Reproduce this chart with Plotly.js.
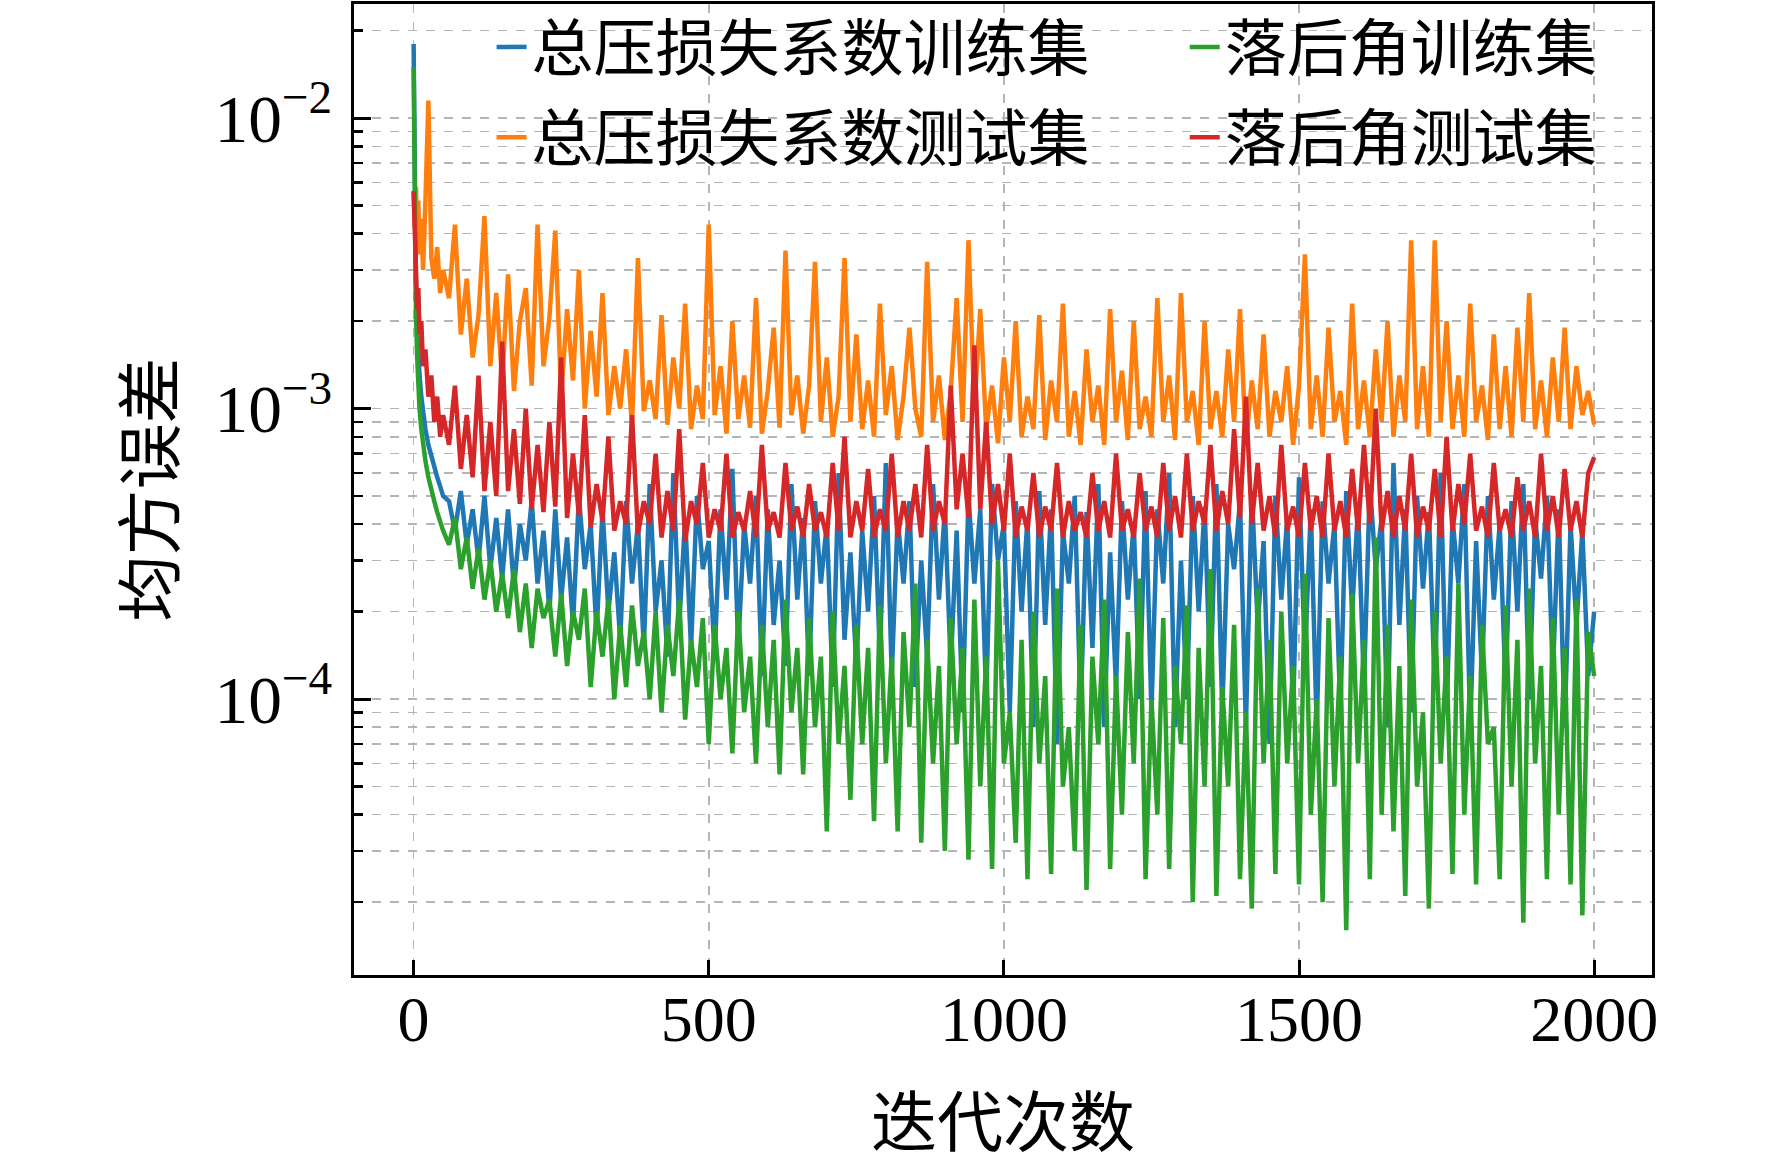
<!DOCTYPE html>
<html>
<head>
<meta charset="utf-8">
<script src="https://cdn.plot.ly/plotly-3.0.1.min.js"></script>
<style>
  html, body { margin: 0; padding: 0; background: #fff; }
  #chart { width: 1772px; height: 1165px; }
</style>
</head>
<body>
<div id="chart"></div>
<script>
// sampled iteration numbers (x axis)
const iters = [
  0, 2, 4, 6, 8, 10, 13, 16, 20, 25, 30, 35, 40, 45, 50,
  60, 70, 80, 90, 100, 110, 120, 130, 140, 150,
  160, 170, 180, 190, 200, 210, 220, 230, 240, 250,
  260, 270, 280, 290, 300, 310, 320, 330, 340, 350,
  360, 370, 380, 390, 400, 410, 420, 430, 440, 450,
  460, 470, 480, 490, 500, 510, 520, 530, 540, 550,
  560, 570, 580, 590, 600, 610, 620, 630, 640, 650,
  660, 670, 680, 690, 700, 710, 720, 730, 740, 750,
  760, 770, 780, 790, 800, 810, 820, 830, 840, 850,
  860, 870, 880, 890, 900, 910, 920, 930, 940, 950,
  960, 970, 980, 990, 1000, 1010, 1020, 1030, 1040, 1050,
  1060, 1070, 1080, 1090, 1100, 1110, 1120, 1130, 1140, 1150,
  1160, 1170, 1180, 1190, 1200, 1210, 1220, 1230, 1240, 1250,
  1260, 1270, 1280, 1290, 1300, 1310, 1320, 1330, 1340, 1350,
  1360, 1370, 1380, 1390, 1400, 1410, 1420, 1430, 1440, 1450,
  1460, 1470, 1480, 1490, 1500, 1510, 1520, 1530, 1540, 1550,
  1560, 1570, 1580, 1590, 1600, 1610, 1620, 1630, 1640, 1650,
  1660, 1670, 1680, 1690, 1700, 1710, 1720, 1730, 1740, 1750,
  1760, 1770, 1780, 1790, 1800, 1810, 1820, 1830, 1840, 1850,
  1860, 1870, 1880, 1890, 1900, 1910, 1920, 1930, 1940, 1950,
  1960, 1970, 1980, 1990, 2000
]

// MSE values, in units of 1e-5
const lossTrain = [
  1800, 420, 260, 190, 150, 130, 110, 95, 85, 75, 68, 62, 58, 54, 50,
  48, 38, 52, 34, 45, 30, 50, 28, 42, 26,
  45, 24, 40, 30, 48, 25, 38, 20, 45, 22,
  36, 18, 50, 28, 40, 17, 45, 20, 32, 16,
  48, 25, 40, 15, 55, 20, 30, 14, 60, 18,
  42, 15, 50, 28, 35, 14, 45, 22, 62, 15,
  40, 25, 50, 12, 45, 18, 30, 13, 55, 22,
  42, 12, 48, 25, 40, 11, 60, 16, 32, 13,
  38, 20, 50, 14, 65, 12, 42, 25, 48, 11,
  30, 14, 55, 22, 45, 13, 38, 9, 50, 25,
  45, 10, 55, 30, 40, 9, 48, 20, 42, 8,
  52, 18, 45, 7, 38, 25, 50, 9, 44, 15,
  55, 8, 32, 11, 48, 22, 40, 10, 52, 9,
  45, 25, 60, 8, 30, 10, 50, 20, 46, 11,
  55, 9, 40, 28, 48, 8, 52, 18, 35, 7,
  50, 22, 42, 9, 58, 14, 45, 8, 48, 25,
  40, 9, 52, 20, 46, 11, 55, 28, 42, 8,
  65, 18, 45, 9, 50, 24, 44, 11, 60, 9,
  42, 25, 55, 8, 35, 12, 50, 22, 40, 11,
  48, 20, 55, 10, 42, 26, 50, 12, 45, 8,
  40, 18, 38, 12, 20
]

const lossTest = [
  560, 420, 580, 380, 520, 340, 450, 300, 520, 1150, 330, 280, 360, 250, 300,
  240, 430, 180, 280, 150, 210, 460, 140, 250, 125,
  290, 115, 200, 260, 120, 430, 140, 205, 410, 110,
  220, 125, 300, 100, 185, 110, 250, 95, 140, 100,
  160, 88, 330, 98, 125, 92, 210, 88, 150, 100,
  230, 85, 120, 92, 430, 95, 140, 82, 200, 92,
  130, 86, 240, 82, 115, 190, 86, 350, 95, 130,
  82, 120, 320, 90, 150, 80, 110, 330, 90, 180,
  85, 125, 80, 230, 95, 140, 78, 110, 190, 100,
  80, 320, 90, 130, 78, 115, 240, 90, 380, 100,
  220, 85, 120, 76, 150, 90, 200, 80, 110, 85,
  210, 78, 125, 90, 230, 80, 115, 75, 160, 90,
  120, 75, 220, 90, 135, 78, 200, 85, 110, 80,
  240, 90, 130, 78, 250, 90, 115, 75, 200, 85,
  115, 80, 160, 90, 220, 75, 125, 85, 180, 80,
  115, 90, 140, 75, 120, 340, 85, 130, 80, 190,
  90, 115, 75, 230, 85, 125, 80, 160, 90, 200,
  80, 130, 90, 380, 85, 140, 80, 380, 90, 200,
  85, 130, 80, 230, 90, 120, 78, 180, 85, 140,
  80, 190, 90, 250, 85, 125, 80, 150, 90, 190,
  85, 140, 95, 115, 88
]

const angleTrain = [
  1500, 360, 210, 150, 120, 100, 85, 75, 66, 58, 52, 48, 44, 41, 38,
  34, 42, 28, 36, 24, 33, 22, 30, 20, 27,
  19, 28, 17, 25, 15, 24, 19, 22, 14, 23,
  13, 20, 16, 24, 11, 20, 14, 22, 10, 18,
  11, 21, 13, 17, 10, 20, 9, 18, 12, 22,
  8.5, 16, 11, 19, 7, 18, 10, 15, 6.5, 20,
  9, 14, 6, 18, 8, 16, 5.5, 22, 9, 15,
  5.5, 19, 8, 14, 3.5, 20, 7, 13, 4.5, 18,
  7, 15, 3.8, 21, 6, 14, 3.5, 17, 8, 25,
  3.2, 16, 6, 13, 3, 19, 7, 15, 2.8, 22,
  5, 14, 2.6, 30, 6, 9, 3.2, 16, 2.4, 20,
  6, 12, 2.5, 24, 5, 8, 3, 18, 2.2, 14,
  7, 22, 2.6, 12, 4, 17, 6, 26, 2.4, 10,
  4, 19, 2.6, 13, 7, 21, 2, 15, 5, 28,
  2.1, 11, 5, 18, 2.4, 9, 1.9, 24, 6, 16,
  2.5, 20, 6, 13, 2.3, 27, 4, 10, 2, 19,
  5, 14, 1.6, 23, 6, 16, 2.4, 36, 4, 18,
  3.5, 13, 2.1, 22, 5, 9, 1.9, 20, 6, 14,
  2.5, 25, 4, 12, 2.3, 18, 7, 8, 2.4, 21,
  5, 16, 1.7, 24, 6, 13, 2.4, 19, 4, 15,
  2.3, 22, 1.8, 17, 12
]

const angleTest = [
  560, 350, 300, 220, 260, 180, 200, 140, 160, 110, 130, 90, 110, 80, 95,
  75, 120, 62, 95, 58, 130, 52, 90, 50, 170,
  52, 85, 47, 100, 45, 75, 44, 90, 46, 150,
  42, 70, 43, 95, 39, 55, 41, 80, 38, 48,
  40, 95, 37, 48, 40, 70, 36, 52, 38, 85,
  35, 48, 40, 65, 36, 45, 38, 70, 36, 44,
  38, 52, 36, 75, 38, 44, 36, 65, 38, 46,
  36, 55, 38, 44, 36, 65, 38, 80, 36, 48,
  38, 62, 36, 45, 38, 70, 36, 48, 38, 55,
  36, 75, 38, 48, 40, 120, 45, 70, 42, 165,
  45, 90, 40, 55, 38, 70, 36, 46, 38, 60,
  36, 46, 38, 65, 36, 48, 38, 44, 36, 60,
  38, 48, 36, 70, 38, 45, 36, 60, 38, 46,
  36, 65, 38, 50, 36, 70, 38, 48, 40, 75,
  38, 52, 40, 85, 42, 110, 40, 65, 38, 50,
  36, 75, 38, 46, 36, 65, 38, 50, 36, 70,
  38, 48, 36, 62, 38, 75, 40, 100, 38, 52,
  36, 50, 38, 70, 36, 46, 38, 62, 36, 80,
  38, 55, 40, 70, 38, 46, 36, 65, 38, 45,
  36, 58, 38, 48, 36, 70, 38, 50, 36, 62,
  38, 48, 36, 60, 68
]

const seriesNames = ['总压损失系数训练集', '总压损失系数测试集', '落后角训练集', '落后角测试集']
const seriesColors = ['#1f77b4', '#ff7f0e', '#2ca02c', '#d62728']
const xTicks = [0, 500, 1000, 1500, 2000]

const cjk = '"Noto Sans CJK SC", sans-serif'
const serif = '"Liberation Serif", "Times New Roman", serif'

function makeTrace(vals, i, legendId) {
    return {
        x: iters,
        y: vals.map(v => v * 1e-5),
        type: 'scatter',
        mode: 'lines',
        name: seriesNames[i],
        line: { color: seriesColors[i], width: 4.5 },
        legend: legendId,
        hoverinfo: 'x+y'
    }
}

// matplotlib draw order C0..C3; each entry gets its own legend box (2 x 2 grid)
const traces = [
    makeTrace(lossTrain, 0, 'legend'),
    makeTrace(lossTest, 1, 'legend2'),
    makeTrace(angleTrain, 2, 'legend3'),
    makeTrace(angleTest, 3, 'legend4')
]

const gridStyle = { gridcolor: '#b5b5b5', gridwidth: 1.5, griddash: 'dash' }

function legendAt(x, y) {
    return {
        orientation: 'v',
        yanchor: 'top',
        xanchor: 'left',
        x: x,
        y: y,
        bgcolor: 'rgba(255,255,255,0)',
        borderwidth: 0,
        font: { family: cjk, size: 62, color: '#000' }
    }
}

const layout = {
    width: 1772,
    height: 1165,
    margin: { l: 354, r: 120, t: 4, b: 190, autoexpand: false },
    paper_bgcolor: '#fff',
    plot_bgcolor: '#fff',
    showlegend: true,
    legend: legendAt(0.106, 1.004),
    legend2: legendAt(0.106, 0.911),
    legend3: legendAt(0.640, 1.004),
    legend4: legendAt(0.640, 0.911),
    xaxis: Object.assign({
        range: [-101, 2098],
        tickmode: 'array',
        tickvals: xTicks,
        ticktext: xTicks.map(String),
        ticks: 'inside',
        ticklen: 15,
        tickwidth: 3,
        tickcolor: '#000',
        showline: true,
        linecolor: '#000',
        linewidth: 3,
        mirror: true,
        zeroline: false,
        showgrid: true,
        ticklabelstandoff: -14,
        tickfont: { family: serif, size: 64, color: '#000' },
        title: { text: '迭代次数', font: { family: cjk, size: 66, color: '#000' }, standoff: 64 }
    }, gridStyle),
    yaxis: Object.assign({
        type: 'log',
        range: [-4.95, -1.607],
        tickmode: 'linear',
        tick0: 0,
        dtick: 1,
        exponentformat: 'power',
        ticks: 'inside',
        ticklen: 17,
        tickwidth: 3,
        tickcolor: '#000',
        showline: true,
        linecolor: '#000',
        linewidth: 3,
        mirror: true,
        zeroline: false,
        showgrid: true,
        ticklabelstandoff: 8,
        tickfont: { family: serif, size: 54, color: '#000' },
        minor: Object.assign({
            dtick: 'D1',
            ticks: 'inside',
            ticklen: 9,
            tickwidth: 2.5,
            tickcolor: '#000',
            showgrid: true
        }, gridStyle),
        title: { text: '均方误差', font: { family: cjk, size: 66, color: '#000' }, standoff: 19 }
    }, gridStyle),
    shapes: [{
        // legend frame (white, no edge) hiding the grid behind the legend entries
        type: 'rect', xref: 'paper', yref: 'paper', layer: 'between',
        x0: 0.074, x1: 0.99, y0: 0.84, y1: 1,
        fillcolor: '#fff', line: { width: 0 }
    }]
}

const config = { displayModeBar: false, responsive: false, staticPlot: true }

Plotly.newPlot('chart', traces, layout, config)
</script>
</body>
</html>
